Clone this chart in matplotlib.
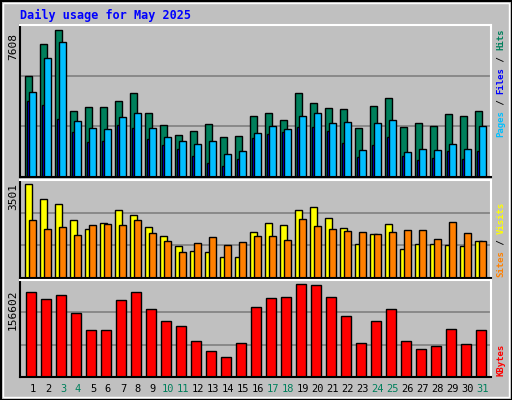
import numpy as np
import matplotlib.pyplot as plt
from matplotlib.patches import Rectangle

days = np.arange(1, 32)
weekend = [3, 4, 10, 11, 17, 18, 24, 25, 31]

hits = [5232, 6885, 7608, 3425, 3632, 3632, 3941, 4355, 3322, 2702, 2186, 2392, 2754, 2083, 2134, 3167,
        3322, 2960, 4355, 3838, 3580, 3528, 2547, 3683, 4096, 2599, 2805, 2650, 3270, 3167, 3425]
files = [4406, 6161, 6987, 2908, 2547, 2495, 3115, 3322, 2547, 2083, 1876, 1721, 1876, 1205, 1360, 2289,
         2650, 2495, 3167, 3322, 2805, 2857, 1411, 2805, 2960, 1308, 1463, 1411, 1721, 1463, 2650]
pages = [3941, 3735, 3012, 2341, 1824, 1876, 2702, 2547, 1979, 1669, 1463, 1101, 740, 585, 947, 2031,
         2237, 2341, 2599, 2599, 2392, 1773, 1050, 1669, 2083, 1101, 895, 998, 1360, 947, 1360]
visits = [3501, 2967, 2777, 2168, 1826, 2054, 2549, 2359, 1902, 1560, 1179, 1027, 989, 799, 799, 1712,
          2054, 1978, 2549, 2663, 2244, 1864, 1255, 1636, 2016, 1103, 1255, 1255, 1217, 1179, 1369]
sites = [2168, 1826, 1902, 1598, 1978, 2016, 1978, 2168, 1674, 1369, 989, 1293, 1522, 1217, 1331, 1560,
         1560, 1407, 2206, 1940, 1826, 1750, 1712, 1636, 1712, 1788, 1788, 1446, 2092, 1674, 1369]
kbytes = [144547, 132502, 139385, 108410, 79157, 79157, 130781, 144547, 115294, 94644, 86040, 60228,
          44741, 34416, 56786, 118735, 134222, 135943, 156602, 154872, 135943, 103248, 56786, 94644,
          115294, 60228, 48182, 51624, 80878, 55066, 79157]

W, H = 512, 400
fig = plt.figure(figsize=(W / 100, H / 100), dpi=100)
fig.patch.set_facecolor('#C0C0C0')
# outer frame
fig.patches.append(Rectangle((0.5 / W, 0.5 / H), 1 - 1 / W, 1 - 1 / H, transform=fig.transFigure,
                             fill=False, edgecolor='black', lw=1.5))
fig.patches.append(Rectangle((3 / W, 3 / H), 1 - 6 / W, 1 - 6 / H, transform=fig.transFigure,
                             fill=False, edgecolor='white', lw=1))

def mk_ax(top, bottom):
    ax = fig.add_axes([20 / W, 1 - bottom / H, 471 / W, (bottom - top) / H])
    ax.set_facecolor('#C0C0C0')
    ax.set_xlim(0.5, 31.92)
    ax.set_xticks([])
    ax.set_yticks([])
    for s in ['top', 'right']:
        ax.spines[s].set_color('white')
    for s in ['bottom', 'left']:
        ax.spines[s].set_color('black')
    for sp in ax.spines.values():
        sp.set_linewidth(1.5)
    return ax

mono = 'DejaVu Sans Mono'
kw = dict(edgecolor='black', linewidth=1, align='edge')

ax1 = mk_ax(25, 177)
ax1.set_ylim(0, 7845)
for g in (7845 / 3, 7845 * 2 / 3):
    ax1.axhline(g, color='#808080', lw=1.2, zorder=0)
ax1.bar(days - 0.5 + 0.35, hits, 0.48, color='#00805C', **kw)
ax1.bar(days - 0.5 + 0.46, pages, 0.2, color='#0000FF', **kw)
ax1.bar(days - 0.5 + 0.59, files, 0.5, color='#00BFFF', **kw)

ax2 = mk_ax(180, 278)
ax2.set_ylim(0, 3665)
for g in (3665 / 3, 3665 * 2 / 3):
    ax2.axhline(g, color='#808080', lw=1.2, zorder=0)
ax2.bar(days - 0.5 + 0.35, visits, 0.46, color='#FFFF00', **kw)
ax2.bar(days - 0.5 + 0.59, sites, 0.48, color='#FF8000', **kw)

ax3 = mk_ax(280, 377)
ax3.set_ylim(0, 164000)
for g in (164000 / 3, 164000 * 2 / 3):
    ax3.axhline(g, color='#808080', lw=1.2, zorder=0)
ax3.bar(days - 0.5 + 0.42, kbytes, 0.68, color='#FF0000', **kw)

# title
fig.text(20 / W, 1 - 15 / H, 'Daily usage for May 2025', color='#0000FF', family=mono,
         fontweight='bold', fontsize=8.5, va='center')

# max labels on the left
for y, t in [(46, '7608'), (196, '3501'), (310, '156602')]:
    fig.text(13 / W, 1 - y / H, t, rotation=90, family=mono, fontsize=8, va='center', ha='center')

# day labels
for d in days:
    col = '#00805C' if d in weekend else 'black'
    ax3.text(d + 0.37, -0.12, str(d), transform=ax3.get_xaxis_transform(), ha='center', va='center',
             family=mono, fontsize=7.5, color=col)

# right side legend labels (read bottom to top)
FS = 6.5
CH = 0.6 * FS * 100 / 72

def vlabel(x, y0, parts):
    y = y0
    for txt, col in parts:
        fig.text(x / W, 1 - y / H, txt, rotation=90, family=mono, fontweight='bold',
                 fontsize=FS, color=col, ha='center', va='bottom')
        y -= len(txt) * CH

vlabel(501, 137, [('Pages', '#00BFFF'), (' / ', 'black'), ('Files', '#0000FF'), (' / ', 'black'), ('Hits', '#00805C')])
vlabel(501, 277, [('Sites', '#FF8000'), (' / ', 'black'), ('Visits', '#FFFF00')])
vlabel(501, 376, [('KBytes', '#FF0000')])

fig.savefig('out.png', dpi=100, facecolor=fig.get_facecolor())
